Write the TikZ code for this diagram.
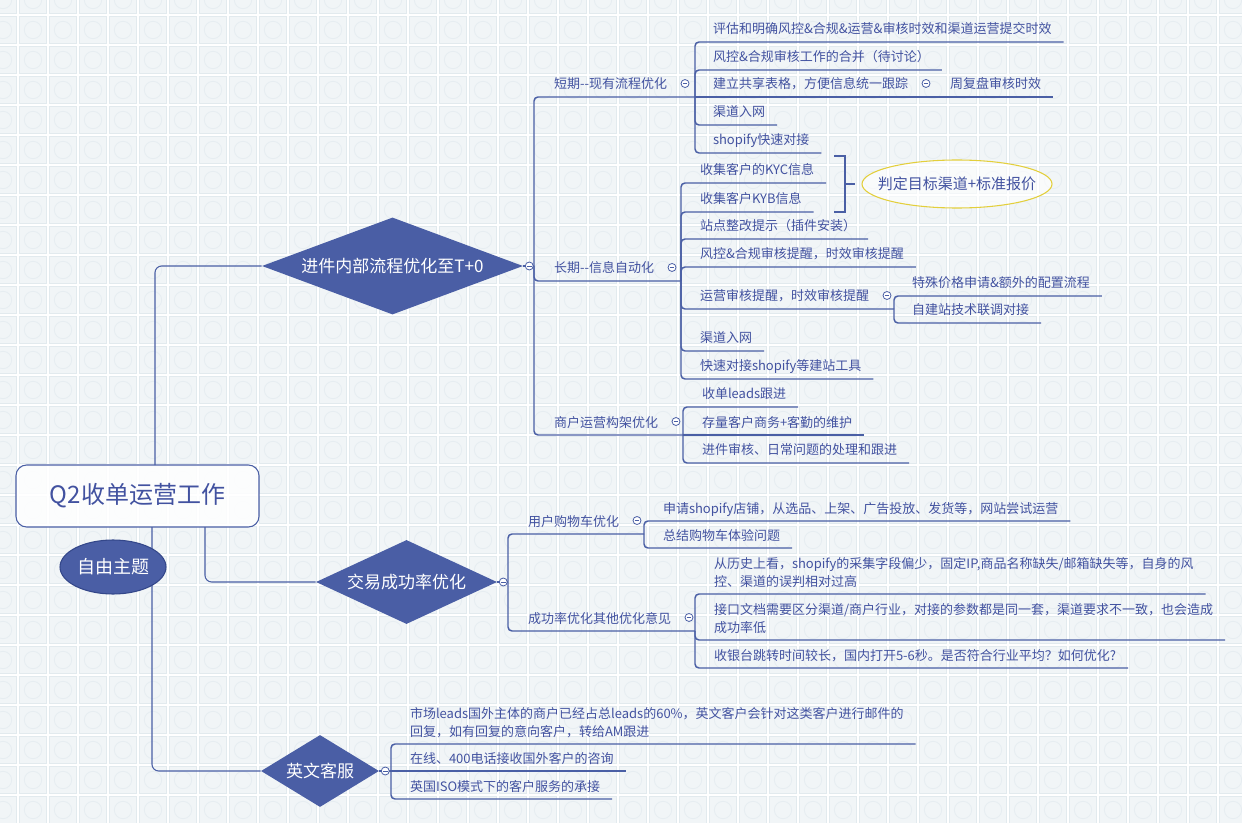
\documentclass[tikz,border=0pt]{standalone}
\usepackage{fontspec}
\setmainfont{Noto Sans CJK SC}
\usetikzlibrary{shapes.geometric}
\definecolor{ln}{HTML}{4A5FA5}
\definecolor{tx}{HTML}{4252A0}
\definecolor{dia}{HTML}{4A5EA5}
\definecolor{diaedge}{HTML}{34478A}
\definecolor{tilefill}{HTML}{F1F5F7}
\definecolor{tileedge}{HTML}{E2EAEE}
\definecolor{tileorn}{HTML}{E6EDF1}
\definecolor{yl}{HTML}{E3CF3C}
\tikzset{
  leaf/.style={anchor=south west, inner sep=0pt, outer sep=0pt, text depth=0pt, text=tx, font=\fontsize{9.75}{13.5}\selectfont},
  conn/.style={draw=ln, line width=1.1pt, rounded corners=3pt},
  rootconn/.style={draw=ln, line width=0.8pt, rounded corners=5pt},
  fold/.style={circle, draw=ln, line width=0.6pt, fill=white, minimum size=6pt, inner sep=0pt,
    path picture={\draw[ln, line width=0.6pt] ([xshift=-1.7pt]path picture bounding box.center) -- ([xshift=1.7pt]path picture bounding box.center);}},
  maindia/.style={diamond, fill=dia, text=white, inner sep=0pt, font=\fontsize{12.75}{15}\selectfont},
}
\begin{document}
\begin{tikzpicture}[x=0.75pt, y=-0.75pt]
\useasboundingbox (0,0) rectangle (1242,823);
% background tiles
\begin{scope}
\clip (0,0) rectangle (1242,823);
\fill[white] (0,0) rectangle (1242,823);
\foreach \i in {-1,...,41}{\foreach \j in {-1,...,27}{
  \filldraw[fill=tilefill, draw=tileedge, line width=0.5pt] (19.5+30*\i,16.5+30*\j) rectangle ++(27,27);
  \draw[tileorn, line width=0.6pt] (33+30*\i,30+30*\j) circle (6.5pt);
}}
\end{scope}

% root and main topics
\node[draw=ln, line width=0.8pt, rounded corners=8pt, fill=white, fill opacity=0.85, text opacity=1, text=tx,
  minimum width=182.25pt, minimum height=46.5pt, inner sep=0pt, font=\fontsize{18}{20}\selectfont] (root) at (137.5,496) {Q2收单运营工作};
\node[maindia, shape aspect=2.69, minimum width=195.75pt, minimum height=72.75pt] (D1) at (392.5,266) {进件内部流程优化至T+0};
\node[maindia, shape aspect=2.15, minimum width=135.75pt, minimum height=63pt] (D2) at (406.5,582) {交易成功率优化};
\node[maindia, shape aspect=1.64, minimum width=88.5pt, minimum height=54pt] (D3) at (320,771) {英文客服};

\coordinate (r1) at (155,465);
\coordinate (r2) at (205,527);
\coordinate (r3) at (152,527);
\draw[rootconn] (r1) |- (D1.west);
\draw[rootconn] (r2) |- (D2.west);
\draw[rootconn] (r3) |- (D3.west);

\node[ellipse, draw=diaedge, line width=0.8pt, fill=dia, text=white, minimum width=79.5pt, minimum height=40.5pt,
  inner sep=0pt, font=\fontsize{13.5}{15}\selectfont] (free) at (113,567) {\makebox[0pt]{自由主题}};

% ---------- branch D1 ----------
\coordinate (D1j) at (534,266);
\node[leaf] (A) at (554,89) {短期\mbox{-}\mbox{-}现有流程优化};
\coordinate (A-e) at (695,97);
\node[leaf] (B) at (554,273) {长期\mbox{-}\mbox{-}信息自动化};
\coordinate (B-e) at (681,281);
\node[leaf] (C) at (554,427) {商户运营构架优化};
\coordinate (C-e) at (683,435);
\draw[conn] (D1.east) -- (D1j);
\draw[conn] (D1j) |- (A-e);
\draw[conn] (D1j) |- (B-e);
\draw[conn] (D1j) |- (C-e);

\node[leaf] (A1) at (713,34) {评估和明确风控\&合规\&运营\&审核时效和渠道运营提交时效};
\node[leaf] (A2) at (713,62) {风控\&合规审核工作的合并（待讨论）};
\node[leaf] (A3) at (713,89) {建立共享表格，方便信息统一跟踪};
\coordinate (A3-e) at (932,97);
\node[leaf] (A3a) at (950,89) {周复盘审核时效};
\node[leaf] (A4) at (713,117) {渠道入网};
\node[leaf] (A5) at (713,145) {shopify快速对接};
\draw[conn] (A-e) |- ([shift={(9pt,-6pt)}]A1.south east);
\draw[conn] (A-e) |- ([shift={(9pt,-6pt)}]A2.south east);
\draw[conn] (A-e) -- (A3-e);
\draw[conn] (A3-e) -- ([shift={(9pt,-6pt)}]A3a.south east);
\draw[conn] (A-e) |- ([shift={(9pt,-6pt)}]A4.south east);
\draw[conn] (A-e) |- ([shift={(9pt,-6pt)}]A5.south east);

\node[leaf] (B1) at (700,175) {收集客户的KYC信息};
\node[leaf] (B2) at (700,204) {收集客户KYB信息};
\node[leaf] (B3) at (700,231) {站点整改提示（插件安装）};
\node[leaf] (B4) at (700,259) {风控\&合规审核提醒，时效审核提醒};
\node[leaf] (B5) at (700,301) {运营审核提醒，时效审核提醒};
\coordinate (B5-e) at (894,309);
\node[leaf] (B5a) at (912,288) {特殊价格申请\&额外的配置流程};
\node[leaf] (B5b) at (912,315) {自建站技术联调对接};
\node[leaf] (B6) at (700,343) {渠道入网};
\node[leaf] (B7) at (700,371) {快速对接shopify等建站工具};
\draw[conn] (B-e) |- ([shift={(9pt,-6pt)}]B1.south east);
\draw[conn] (B-e) |- ([shift={(9pt,-6pt)}]B2.south east);
\draw[conn] (B-e) |- ([shift={(9pt,-6pt)}]B3.south east);
\draw[conn] (B-e) |- ([shift={(9pt,-6pt)}]B4.south east);
\draw[conn] (B-e) |- (B5-e);
\draw[conn] (B5-e) |- ([shift={(9pt,-6pt)}]B5a.south east);
\draw[conn] (B5-e) |- ([shift={(9pt,-6pt)}]B5b.south east);
\draw[conn] (B-e) |- ([shift={(9pt,-6pt)}]B6.south east);
\draw[conn] (B-e) |- ([shift={(9pt,-6pt)}]B7.south east);

% summary of B1-B2
\node[ellipse, draw=yl, line width=0.8pt, fill=white, fill opacity=0.6, text opacity=1, text=tx,
  minimum width=142.5pt, minimum height=36pt, inner sep=0pt, font=\fontsize{11.25}{13}\selectfont] (J) at (957,184) {\makebox[0pt]{判定目标渠道+标准报价}};
\coordinate (sbt) at (834,156);
\coordinate (sbm) at (845,184);
\draw[ln, line width=2pt] (sbt) -- ++(11,0) -- ++(0,56) -- ++(-11,0);
\draw[ln, line width=2pt] (sbm) -- ([xshift=-4.5pt]J.west);

\node[leaf] (C1) at (702,399) {收单leads跟进};
\node[leaf] (C2) at (702,427) {存量客户商务+客勤的维护};
\node[leaf] (C3) at (702,455) {进件审核、日常问题的处理和跟进};
\draw[conn] (C-e) |- ([shift={(9pt,-6pt)}]C1.south east);
\draw[conn] (C-e) -- ([shift={(9pt,-6pt)}]C2.south east);
\draw[conn] (C-e) |- ([shift={(9pt,-6pt)}]C3.south east);

% ---------- branch D2 ----------
\coordinate (D2j) at (508,582);
\node[leaf] (E) at (528,526) {用户购物车优化};
\coordinate (E-e) at (644,534);
\node[leaf] (F) at (528,623) {成功率优化其他优化意见};
\coordinate (F-e) at (695,631);
\draw[conn] (D2.east) -- (D2j);
\draw[conn] (D2j) |- (E-e);
\draw[conn] (D2j) |- (F-e);

\node[leaf] (E1) at (663,513) {申请shopify店铺，从选品、上架、广告投放、发货等，网站尝试运营};
\node[leaf] (E2) at (663,540) {总结购物车体验问题};
\draw[conn] (E-e) |- ([shift={(9pt,-6pt)}]E1.south east);
\draw[conn] (E-e) |- ([shift={(9pt,-6pt)}]E2.south east);

\node[leaf] (F1) at (714,586) {\begin{tabular}[b]{@{}l@{}}从历史上看，shopify的采集字段偏少，固定IP,商品名称缺失/邮箱缺失等，自身的风\\控、渠道的误判相对过高\end{tabular}};
\node[leaf] (F2) at (714,632) {\begin{tabular}[b]{@{}l@{}}接口文档需要区分渠道/商户行业，对接的参数都是同一套，渠道要求不一致，也会造成\\成功率低\end{tabular}};
\node[leaf] (F3) at (714,660) {收银台跳转时间较长，国内打开5-6秒。是否符合行业平均？如何优化?};
\draw[conn] (F-e) |- ([shift={(9pt,-6pt)}]F1.south east);
\draw[conn] (F-e) |- ([shift={(9pt,-6pt)}]F2.south east);
\draw[conn] (F-e) |- ([shift={(9pt,-6pt)}]F3.south east);

% ---------- branch D3 ----------
\coordinate (D3j) at (391,771);
\draw[conn] (D3.east) -- (D3j);
\node[leaf] (G1) at (410,736) {\begin{tabular}[b]{@{}l@{}}市场leads国外主体的商户已经占总leads的60\%，英文客户会针对这类客户进行邮件的\\回复，如有回复的意向客户，转给AM跟进\end{tabular}};
\node[leaf] (G2) at (410,763) {在线、400电话接收国外客户的咨询};
\node[leaf] (G3) at (410,791) {英国ISO模式下的客户服务的承接};
\draw[conn] (D3j) |- ([shift={(9pt,-6pt)}]G1.south east);
\draw[conn] (D3j) -- ([shift={(9pt,-6pt)}]G2.south east);
\draw[conn] (D3j) |- ([shift={(9pt,-6pt)}]G3.south east);

% fold markers
\node[fold] (D1f) at ([xshift=4.5pt]D1.east) {};
\node[fold] (D2f) at ([xshift=4.5pt]D2.east) {};
\node[fold] (D3f) at ([xshift=4.5pt]D3.east) {};
\node[fold] (Af) at ([xshift=13.5pt]A.east) {};
\node[fold] (A3f) at ([xshift=13.5pt]A3.east) {};
\node[fold] (Bf) at ([xshift=13.5pt]B.east) {};
\node[fold] (B5f) at ([xshift=13.5pt]B5.east) {};
\node[fold] (Cf) at ([xshift=13.5pt]C.east) {};
\node[fold] (Ef) at ([xshift=13.5pt]E.east) {};
\node[fold] (Ff) at ([xshift=13.5pt]F.east) {};
\end{tikzpicture}
\end{document}
